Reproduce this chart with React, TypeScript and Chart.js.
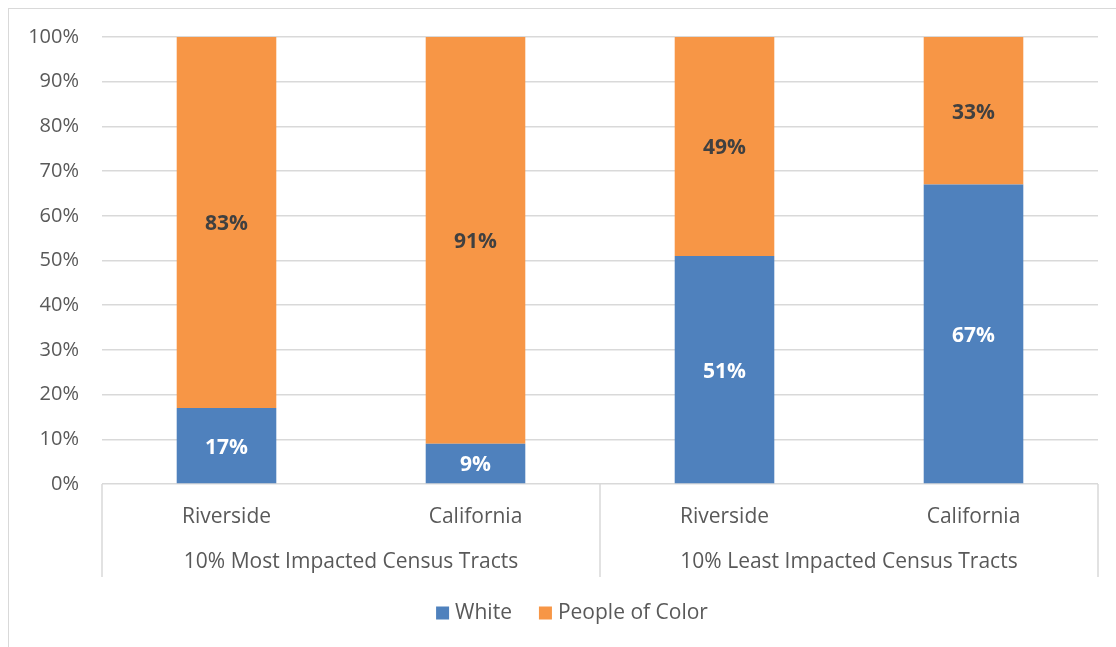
import React, { useEffect, useRef } from "react";
import { Chart, registerables } from "chart.js";

Chart.register(...registerables);

const categories = ["Riverside", "California", "Riverside", "California"];
const groupLabels = ["10% Most Impacted Census Tracts", "10% Least Impacted Census Tracts"];
const groupSizes = [2, 2];
const seriesNames = ["White", "People of Color"];
const whiteValues = [17, 9, 51, 67];
const pocValues = [83, 91, 49, 33];
const yTicks = [0, 10, 20, 30, 40, 50, 60, 70, 80, 90, 100];

const BLUE = "#4f81bd";
const ORANGE = "#f79646";
const TEXT = "#595959";
const GRID = "#d9d9d9";
const FONT = "'Open Sans', 'Noto Sans', sans-serif";

const W = 1116;
const H = 647;

const overlayPlugin = {
  id: "overlay",
  afterDraw(chart: any) {
    const ctx = chart.ctx;
    const x = chart.scales.x;
    const area = chart.chartArea;
    ctx.save();
    // category axis separators
    const px = categories.map((_, i) => x.getPixelForValue(i));
    const bounds: number[] = [x.left];
    let idx = 0;
    for (let g = 0; g < groupSizes.length; g++) {
      idx += groupSizes[g];
      if (idx < categories.length) bounds.push((px[idx - 1] + px[idx]) / 2);
    }
    bounds.push(x.right);
    ctx.strokeStyle = GRID;
    ctx.lineWidth = 1.5;
    for (const b of bounds) {
      ctx.beginPath();
      ctx.moveTo(b, area.bottom);
      ctx.lineTo(b, area.bottom + 93);
      ctx.stroke();
    }
    // category labels
    ctx.fillStyle = TEXT;
    ctx.font = `21px ${FONT}`;
    ctx.textAlign = "center";
    ctx.textBaseline = "middle";
    categories.forEach((c, i) => ctx.fillText(c, px[i], area.bottom + 33));
    // group labels
    let start = 0;
    groupLabels.forEach((g, gi) => {
      const end = start + groupSizes[gi] - 1;
      ctx.fillText(g, (px[start] + px[end]) / 2, area.bottom + 78);
      start = end + 1;
    });
    // data labels
    ctx.font = `bold 21px ${FONT}`;
    chart.data.datasets.forEach((ds: any, di: number) => {
      const meta = chart.getDatasetMeta(di);
      ctx.fillStyle = di === 0 ? "#ffffff" : "#404040";
      meta.data.forEach((el: any, i: number) => {
        const v = ds.data[i];
        ctx.fillText(`${v}%`, el.x, (el.y + el.base) / 2 + 2);
      });
    });
    // legend
    ctx.font = `21px ${FONT}`;
    ctx.textAlign = "left";
    const box = 13;
    const gapText = 6;
    const gapItem = 27;
    const widths = seriesNames.map((n) => ctx.measureText(n).width);
    const total = widths.reduce((a, w) => a + box + gapText + w, 0) + gapItem * (seriesNames.length - 1);
    let lx = 572 - total / 2;
    const ly = 613;
    seriesNames.forEach((n, i) => {
      ctx.fillStyle = i === 0 ? BLUE : ORANGE;
      ctx.fillRect(lx, ly - box / 2, box, box);
      lx += box + gapText;
      ctx.fillStyle = TEXT;
      ctx.fillText(n, lx, ly);
      lx += widths[i] + gapItem;
    });
    ctx.restore();
  },
};

export default function App() {
  const ref = useRef<HTMLCanvasElement | null>(null);
  useEffect(() => {
    if (!ref.current) return;
    const chart = new Chart(ref.current, {
      type: "bar",
      data: {
        labels: categories,
        datasets: [
          { label: seriesNames[0], data: whiteValues, backgroundColor: BLUE, borderWidth: 0 },
          { label: seriesNames[1], data: pocValues, backgroundColor: ORANGE, borderWidth: 0 },
        ],
      },
      options: {
        responsive: false,
        maintainAspectRatio: false,
        animation: false,
        devicePixelRatio: 1,
        layout: { padding: { top: 37, right: 18, bottom: 0, left: 0 } },
        datasets: { bar: { categoryPercentage: 1, barPercentage: 0.4 } },
        plugins: { legend: { display: false }, tooltip: { enabled: false } },
        scales: {
          x: {
            stacked: true,
            grid: { display: false },
            border: { display: false },
            ticks: { display: false },
            afterFit(scale: any) {
              scale.height = H - 484;
            },
          },
          y: {
            stacked: true,
            min: 0,
            max: 100,
            afterBuildTicks(scale: any) {
              scale.ticks = yTicks.map((v) => ({ value: v }));
            },
            ticks: {
              callback: (v: any) => `${v}%`,
              color: TEXT,
              font: { family: FONT, size: 20 },
              padding: 23,
            },
            grid: { color: GRID, lineWidth: 1.5, drawTicks: false },
            border: { display: false },
            afterFit(scale: any) {
              scale.width = 102;
            },
          },
        },
      },
      plugins: [overlayPlugin],
    } as any);
    return () => chart.destroy();
  }, []);
  return (
    <div>
      <div
        style={{
          position: "fixed",
          left: 8,
          top: 8,
          width: 1200,
          height: 700,
          border: `1px solid ${GRID}`,
          boxSizing: "border-box",
        }}
      />
      <canvas
        ref={ref}
        width={W}
        height={H}
        style={{ position: "fixed", left: 0, top: 0, width: W, height: H }}
      />
    </div>
  );
}
